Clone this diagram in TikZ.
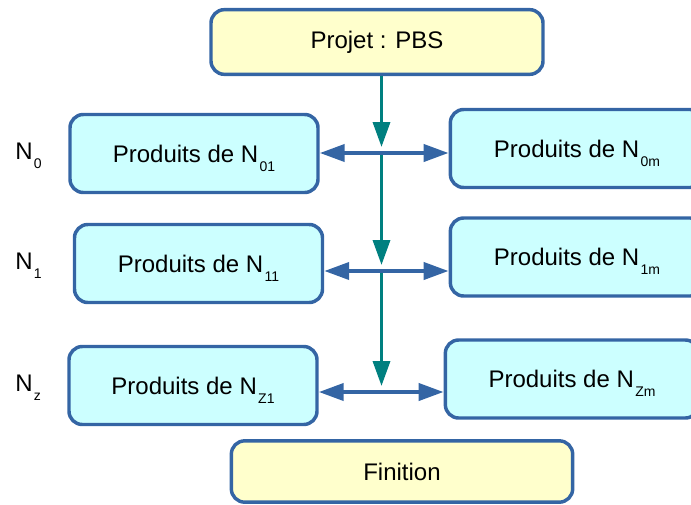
\documentclass[tikz,border=0pt]{standalone}
\usepackage{fontspec}
\setmainfont{Liberation Sans}
\usetikzlibrary{arrows.meta}
\definecolor{bord}{HTML}{3465A4}
\definecolor{ciel}{HTML}{CCFFFF}
\definecolor{creme}{HTML}{FFFFCC}
\definecolor{sarcelle}{HTML}{008080}
\newcommand{\nsub}[1]{\kern1pt\raisebox{-6.75pt}[0pt][0pt]{\fontsize{10.5}{12}\selectfont #1}}
\tikzset{
        boite/.style={draw=bord, line width=2.6pt, rounded corners=10pt, inner sep=0pt, font=\fontsize{18}{21}\selectfont},
        prod/.style={boite, fill=ciel, minimum width=186pt, minimum height=58.5pt},
        projet/.style={boite, fill=creme, minimum width=249pt, minimum height=48.5pt},
        fin/.style={boite, fill=creme, minimum width=256pt, minimum height=46pt},
        niveau/.style={anchor=west, inner sep=0pt, font=\fontsize{18}{21}\selectfont},
        lien/.style={draw=bord, line width=3pt, {Triangle[length=18.75pt, width=12.75pt]}-{Triangle[length=18.75pt, width=12.75pt]}},
        flux/.style={draw=sarcelle, line width=2.6pt, -{Triangle[length=18.75pt, width=12.75pt]}, shorten >=4.5pt}
          }
\begin{document}
\begin{tikzpicture}[x=0.75pt, y=-0.75pt]
        \useasboundingbox (0,0) rectangle (691,504);
        \node[projet] (pbs) at (377,42) {Projet : PBS};
        \node[prod] (g0) at (194,153.5) {Produits de N\nsub{01}};
        \node[prod, minimum width=190pt] (d0) at (577,148.5) {Produits de N\nsub{0m}};
        \node[prod] (g1) at (198.5,263.5) {Produits de N\nsub{11}};
        \node[prod, minimum width=190pt] (d1) at (577,257) {Produits de N\nsub{1m}};
        \node[prod] (g2) at (193,385.5) {Produits de N\nsub{Z1}};
        \node[prod, minimum width=190pt] (d2) at (572,379) {Produits de N\nsub{Zm}};
        \node[fin] (fin) at (402,471.5) {Finition};
        \node[niveau] (n0) at (15,151) {N\nsub{0}};
        \node[niveau] (n1) at (15,261) {N\nsub{1}};
        \node[niveau] (nz) at (15,383) {N\nsub{z}};
        \coordinate (j0) at (381.5,153);
        \coordinate (j1) at (381.5,271);
        \coordinate (j2) at (381.5,392);
        \draw[flux] (pbs.south -| j0) -- (j0);
        \draw[flux] (j0) -- (j1);
        \draw[flux] (j1) -- (j2);
        \draw[lien] (j0 -| g0.east) -- (j0 -| d0.west);
        \draw[lien] (j1 -| g1.east) -- (j1 -| d1.west);
        \draw[lien] (j2 -| g2.east) -- (j2 -| d2.west);
      \end{tikzpicture}
\end{document}
